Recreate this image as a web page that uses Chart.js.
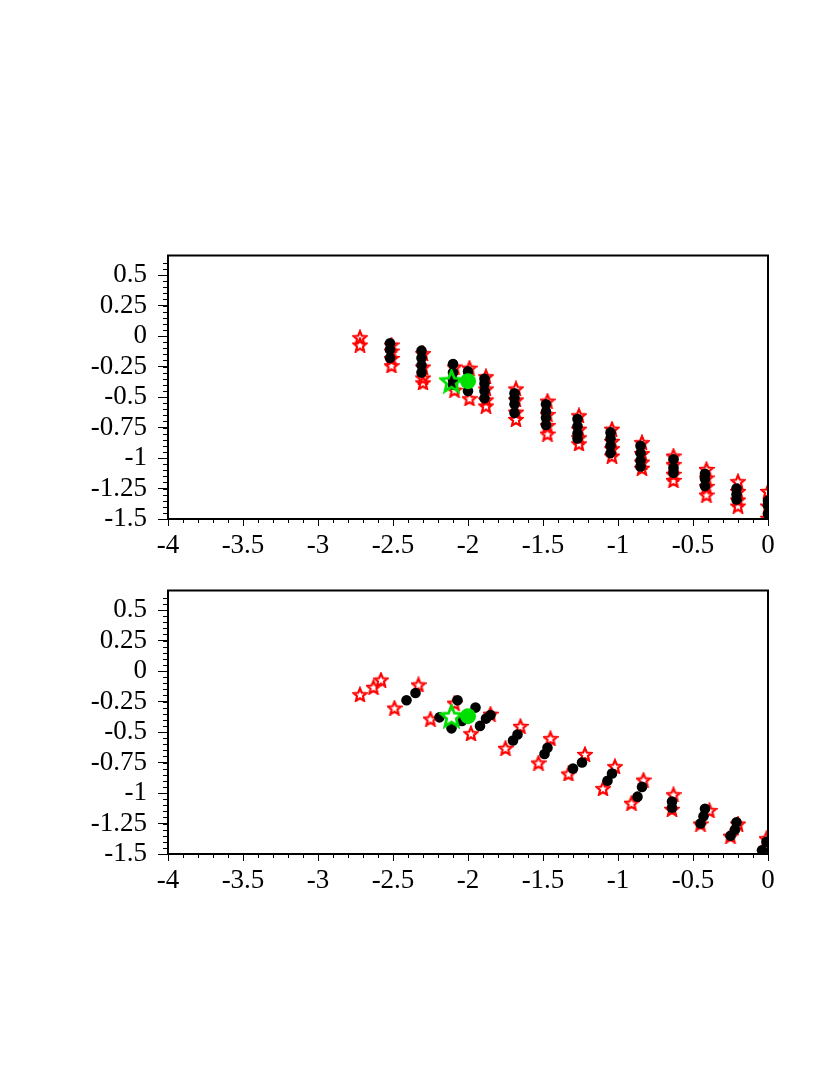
<!DOCTYPE html>
<html>
<head>
<meta charset="utf-8">
<script src="https://cdn.jsdelivr.net/npm/chart.js@4/dist/chart.umd.min.js"></script>
<style>
  body { margin: 0; background: #fff; }
  canvas { position: absolute; left: 0; }
  #top { top: 231px; }
  #bottom { top: 566px; }
</style>
</head>
<body>
<canvas id="top" width="800" height="334"></canvas>
<canvas id="bottom" width="800" height="334"></canvas>
<script>
// ticks
const xTicks = [-4, -3.5, -3, -2.5, -2, -1.5, -1, -0.5, 0];
const yTicks = [0.5, 0.25, 0, -0.25, -0.5, -0.75, -1, -1.25, -1.5];

// panneau du haut : colonnes de points noirs
const topDotColX = [-2.52, -2.31, -2.10, -2.00, -1.89, -1.69, -1.48, -1.27, -1.05, -0.85, -0.63, -0.42, -0.21, 0];
const topDotColY = [
  [-0.06, -0.11, -0.18],
  [-0.12, -0.18, -0.24, -0.30],
  [-0.23, -0.30, -0.36, -0.40],
  [-0.29, -0.37, -0.45],
  [-0.35, -0.39, -0.45, -0.51],
  [-0.47, -0.51, -0.56, -0.63],
  [-0.56, -0.62, -0.67, -0.73],
  [-0.68, -0.74, -0.80, -0.84],
  [-0.79, -0.84, -0.90, -0.96],
  [-0.90, -0.96, -1.02, -1.07],
  [-1.01, -1.08, -1.12],
  [-1.13, -1.17, -1.23],
  [-1.25, -1.30, -1.34],
  [-1.35, -1.39, -1.46]
];
// panneau du haut : colonnes d'etoiles rouges
const topStarColX = [-2.72, -2.51, -2.30, -2.09, -1.99, -1.88, -1.68, -1.47, -1.26, -1.04, -0.84, -0.63, -0.41, -0.20, 0];
const topStarColY = [
  [-0.01, -0.07],
  [-0.07, -0.12, -0.18, -0.24],
  [-0.14, -0.25, -0.34, -0.38],
  [-0.25, -0.44],
  [-0.26, -0.51],
  [-0.33, -0.43, -0.52, -0.57],
  [-0.43, -0.52, -0.62, -0.68],
  [-0.53, -0.64, -0.73, -0.80],
  [-0.65, -0.76, -0.83, -0.88],
  [-0.76, -0.86, -0.92, -0.98],
  [-0.87, -0.96, -1.03, -1.08],
  [-0.98, -1.05, -1.13, -1.18],
  [-1.09, -1.16, -1.23, -1.30],
  [-1.19, -1.27, -1.34, -1.39],
  [-1.27, -1.39, -1.49]
];

// panneau du bas
const botDotX = [-2.41, -2.35, -2.19, -2.11, -2.07, -2.04, -1.95, -1.92, -1.88, -1.85, -1.70, -1.67, -1.49, -1.47,
  -1.30, -1.24, -1.07, -1.04, -0.87, -0.84, -0.64, -0.64, -0.45, -0.43, -0.42, -0.25, -0.22, -0.21, -0.04, -0.01];
const botDotY = [-0.24, -0.18, -0.38, -0.47, -0.24, -0.41, -0.30, -0.45, -0.39, -0.36, -0.57, -0.52, -0.68, -0.63,
  -0.80, -0.75, -0.90, -0.84, -1.03, -0.95, -1.07, -1.12, -1.25, -1.19, -1.13, -1.35, -1.30, -1.24, -1.47, -1.40];
const botStarX = [-2.72, -2.63, -2.58, -2.49, -2.33, -2.25, -2.09, -1.98, -1.85, -1.75, -1.65, -1.53, -1.45,
  -1.33, -1.22, -1.10, -1.02, -0.91, -0.83, -0.63, -0.64, -0.45, -0.39, -0.25, -0.20, -0.01, 0];
const botStarY = [-0.19, -0.13, -0.07, -0.30, -0.11, -0.39, -0.26, -0.51, -0.35, -0.63, -0.45, -0.75, -0.55,
  -0.84, -0.68, -0.96, -0.78, -1.08, -0.89, -1.01, -1.13, -1.25, -1.14, -1.35, -1.25, -1.37, -1.49];

// points verts
const greenStar = [-2.11, -0.37];
const greenDot = [-2.0, -0.37];

function columns(xs, ys) {
  const pts = [];
  xs.forEach((x, i) => ys[i].forEach(y => pts.push({ x: x, y: y })));
  return pts;
}
function pairs(xs, ys) {
  return xs.map((x, i) => ({ x: x, y: ys[i] }));
}

// etoile a 5 branches creuse
function makeStar(size, color, lw) {
  const c = document.createElement('canvas');
  c.width = size; c.height = size;
  const g = c.getContext('2d');
  const R = size / 2 - lw / 2, r = R * 0.45, cx = size / 2, cy = size / 2 + 1;
  g.beginPath();
  for (let i = 0; i < 10; i++) {
    const a = -Math.PI / 2 + i * Math.PI / 5;
    const rr = i % 2 === 0 ? R : r;
    g.lineTo(cx + rr * Math.cos(a), cy + rr * Math.sin(a));
  }
  g.closePath();
  g.strokeStyle = color;
  g.lineWidth = lw;
  g.lineJoin = 'miter';
  g.stroke();
  return c;
}
const redStar = makeStar(16, '#ff0000', 2.2);
const bigGreenStar = makeStar(25, '#00e000', 2.8);

const framePlugin = {
  id: 'frame',
  afterDraw(chart) {
    const { ctx, chartArea: a, scales } = chart;
    ctx.save();
    ctx.strokeStyle = '#000';
    ctx.lineWidth = 1;
    ctx.beginPath();
    // petites graduations
    for (let v = -4; v <= 0.001; v += 0.1) {
      const px = Math.round(scales.x.getPixelForValue(v)) + 0.5;
      ctx.moveTo(px, a.bottom); ctx.lineTo(px, a.bottom + 4);
    }
    for (let v = -1.5; v <= 0.65; v += 0.05) {
      const py = Math.round(scales.y.getPixelForValue(v)) + 0.5;
      ctx.moveTo(a.left, py); ctx.lineTo(a.left - 5, py);
    }
    ctx.stroke();
    ctx.lineWidth = 2;
    ctx.strokeRect(a.left, a.top, a.right - a.left, a.bottom - a.top);
    ctx.restore();
  }
};

function makeChart(id, dots, stars) {
  const font = { family: '"Liberation Serif", "Times New Roman", serif', size: 27, lineHeight: 1 };
  return new Chart(document.getElementById(id), {
    type: 'scatter',
    data: {
      datasets: [
        { data: [{ x: greenDot[0], y: greenDot[1] }], pointStyle: 'circle', pointRadius: 8,
          backgroundColor: '#00e000', borderColor: '#00e000', borderWidth: 0, order: 0, clip: 0 },
        { data: [{ x: greenStar[0], y: greenStar[1] }], pointStyle: bigGreenStar, order: 0, clip: 0 },
        { data: dots, pointStyle: 'circle', pointRadius: 5.3, backgroundColor: '#000', borderWidth: 0, order: 1, clip: 0 },
        { data: stars, pointStyle: redStar, order: 2, clip: 0 }
      ]
    },
    options: {
      responsive: false,
      animation: false,
      events: [],
      layout: { padding: { top: 20, right: 32, left: 0, bottom: 0 } },
      plugins: { legend: { display: false }, tooltip: { enabled: false } },
      scales: {
        x: {
          type: 'linear', min: -4, max: 0,
          afterFit: s => { s.height = 46; },
          afterBuildTicks: s => { s.ticks = xTicks.map(v => ({ value: v })); },
          grid: { drawOnChartArea: false, tickLength: 7, color: '#000' },
          border: { display: false },
          ticks: { color: '#000', font: font, padding: 6, maxRotation: 0, autoSkip: false, callback: v => String(v) }
        },
        y: {
          type: 'linear', min: -1.5, max: 0.66,
          afterFit: s => { s.width = 168; },
          afterBuildTicks: s => { s.ticks = yTicks.map(v => ({ value: v })); },
          grid: { drawOnChartArea: false, tickLength: 10, color: '#000' },
          border: { display: false },
          ticks: { color: '#000', font: font, padding: 11, autoSkip: false, callback: v => String(v) }
        }
      }
    },
    plugins: [framePlugin]
  });
}

makeChart('top', columns(topDotColX, topDotColY), columns(topStarColX, topStarColY));
makeChart('bottom', pairs(botDotX, botDotY), pairs(botStarX, botStarY));
</script>
</body>
</html>
